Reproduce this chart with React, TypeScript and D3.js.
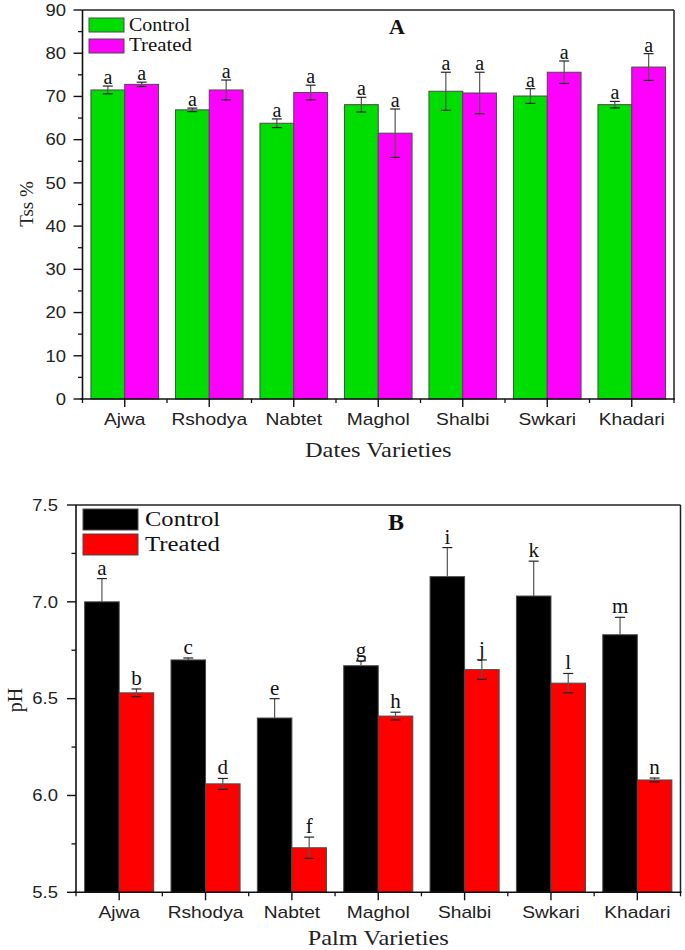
import React from "react";
import * as d3 from "d3";

const categories = ["Ajwa", "Rshodya", "Nabtet", "Maghol", "Shalbi", "Swkari", "Khadari"];
const seriesNames = ["Control", "Treated"];

const tssControl = [71.5, 66.9, 63.8, 68.1, 71.2, 70.1, 68.1];
const tssControlErr = [0.9, 0.4, 1.0, 1.7, 4.4, 1.7, 0.75];
const tssTreated = [72.8, 71.5, 70.9, 61.5, 70.8, 75.6, 76.8];
const tssTreatedErr = [0.5, 2.3, 1.7, 5.6, 4.8, 2.6, 3.1];
const tssControlLetters = ["a", "a", "a", "a", "a", "a", "a"];
const tssTreatedLetters = ["a", "a", "a", "a", "a", "a", "a"];

const phControl = [7.0, 6.7, 6.4, 6.67, 7.13, 7.03, 6.83];
const phControlErr = [0.12, 0.01, 0.1, 0.025, 0.15, 0.18, 0.09];
const phTreated = [6.53, 6.06, 5.73, 6.41, 6.65, 6.58, 6.08];
const phTreatedErr = [0.02, 0.028, 0.055, 0.02, 0.05, 0.05, 0.01];
const phControlLetters = ["a", "c", "e", "g", "i", "k", "m"];
const phTreatedLetters = ["b", "d", "f", "h", "j", "l", "n"];

const SERIF = "'Liberation Serif','Times New Roman',serif";
const SANS = "'Liberation Sans',Arial,sans-serif";

type PanelProps = {
  x0: number; x1: number; y0: number; y1: number;
  domain: [number, number]; major: number; minor: number; fmt: (v: number) => string;
  control: number[]; controlErr: number[]; treated: number[]; treatedErr: number[];
  cLetters: string[]; tLetters: string[];
  colors: [string, string];
  controlUpOnly?: boolean;
  tickLabelRight: number; catBaseline: number; letterSize: number; letterOffset: number;
  legend: { x: number; w: number; h: number; ys: number[]; tx: number; tys: number[]; size: number; lens: number[] };
  panelLetter: { text: string; x: number; y: number; size: number };
  yTitle: { text: string; x: number; y: number; size: number };
  xTitle: { text: string; y: number; size: number; sx: number };
};

function Panel(p: PanelProps) {
  const x = d3.scaleBand<string>().domain(categories).range([p.x0, p.x1]).paddingInner(0.2).paddingOuter(0.1);
  const xs = d3.scaleBand<string>().domain(seriesNames).range([0, x.bandwidth()]).padding(0);
  const y = d3.scaleLinear().domain(p.domain).range([p.y1, p.y0]);
  const step = x.step();
  const majorTicks = d3.range(p.domain[0], p.domain[1] + 1e-9, p.major);
  const minorTicks = d3.range(p.domain[0], p.domain[1] + 1e-9, p.minor).filter(
    (v) => Math.abs(v / p.major - Math.round(v / p.major)) > 1e-6
  );
  const edges = d3.range(0, categories.length + 1).map((i) => p.x0 + i * step);
  const series = [
    { name: "Control", vals: p.control, errs: p.controlErr, letters: p.cLetters, color: p.colors[0], upOnly: !!p.controlUpOnly },
    { name: "Treated", vals: p.treated, errs: p.treatedErr, letters: p.tLetters, color: p.colors[1], upOnly: false },
  ];
  const base = p.domain[0];
  return (
    <g>
      {series.map((s) =>
        categories.map((c, i) => {
          const bx = (x(c) as number) + (xs(s.name) as number);
          return (
            <rect key={s.name + c} x={bx} y={y(s.vals[i])} width={xs.bandwidth()} height={y(base) - y(s.vals[i])}
              fill={s.color} stroke="#4a4a4a" strokeWidth={1} />
          );
        })
      )}
      {series.map((s) =>
        categories.map((c, i) => {
          const cx = (x(c) as number) + (xs(s.name) as number) + xs.bandwidth() / 2;
          const hi = y(s.vals[i] + s.errs[i]);
          const lo = s.upOnly ? y(s.vals[i]) : y(s.vals[i] - s.errs[i]);
          return (
            <g key={"e" + s.name + c}>
              <line x1={cx} x2={cx} y1={hi} y2={lo} stroke="#555" strokeWidth={1.2} />
              <line x1={cx - 5} x2={cx + 5} y1={hi} y2={hi} stroke="#222" strokeWidth={1.2} />
              {!s.upOnly && <line x1={cx - 5} x2={cx + 5} y1={lo} y2={lo} stroke="#222" strokeWidth={1.2} />}
              <text x={cx} y={hi - p.letterOffset} textAnchor="middle" fontFamily={SERIF} fontSize={p.letterSize} fill="#111">
                {s.letters[i]}
              </text>
            </g>
          );
        })
      )}
      <line x1={p.x0} x2={p.x1} y1={p.y0} y2={p.y0} stroke="#222" strokeWidth={1.5} />
      <line x1={p.x1} x2={p.x1} y1={p.y0} y2={p.y1} stroke="#222" strokeWidth={1.5} />
      <line x1={p.x0} x2={p.x0} y1={p.y0} y2={p.y1} stroke="#111" strokeWidth={1.6} />
      <line x1={p.x0 - 2} x2={p.x1 + 1} y1={p.y1} y2={p.y1} stroke="#111" strokeWidth={1.6} />
      {majorTicks.map((v) => (
        <g key={"ym" + v}>
          <line x1={p.x0 - 9} x2={p.x0} y1={y(v)} y2={y(v)} stroke="#111" strokeWidth={1.4} />
          <text transform={`translate(${p.tickLabelRight},${y(v) + 5.8}) scale(1.12,1)`} textAnchor="end" fontFamily={SANS} fontSize={16.5} fill="#222">
            {p.fmt(v)}
          </text>
        </g>
      ))}
      {minorTicks.map((v) => (
        <line key={"yn" + v} x1={p.x0 - 4.5} x2={p.x0} y1={y(v)} y2={y(v)} stroke="#111" strokeWidth={1.3} />
      ))}
      {categories.map((c) => {
        const cx = (x(c) as number) + x.bandwidth() / 2;
        return (
          <g key={"xt" + c}>
            <line x1={cx} x2={cx} y1={p.y1} y2={p.y1 + 8} stroke="#111" strokeWidth={1.4} />
            <text transform={`translate(${cx},${p.catBaseline}) scale(1.2,1)`} textAnchor="middle" fontFamily={SANS} fontSize={16} fill="#222">
              {c}
            </text>
          </g>
        );
      })}
      {edges.map((ex, i) => (
        <line key={"xe" + i} x1={ex} x2={ex} y1={p.y1} y2={p.y1 + 4} stroke="#111" strokeWidth={1.3} />
      ))}
      {series.map((s, i) => (
        <g key={"lg" + s.name}>
          <rect x={p.legend.x} y={p.legend.ys[i]} width={p.legend.w} height={p.legend.h} fill={s.color} stroke="#4a4a4a" strokeWidth={1} />
          <text x={p.legend.tx} y={p.legend.tys[i]} fontFamily={SERIF} fontSize={p.legend.size} fill="#111"
            textLength={p.legend.lens[i]} lengthAdjust="spacingAndGlyphs">
            {s.name}
          </text>
        </g>
      ))}
      <text x={p.panelLetter.x} y={p.panelLetter.y} textAnchor="middle" fontFamily={SERIF} fontWeight="bold" fontSize={p.panelLetter.size} fill="#111">
        {p.panelLetter.text}
      </text>
      <text transform={`translate(${p.yTitle.x},${p.yTitle.y}) rotate(-90)`} textAnchor="middle" fontFamily={SERIF} fontSize={p.yTitle.size} fill="#222">
        {p.yTitle.text}
      </text>
      <text transform={`translate(${(p.x0 + p.x1) / 2},${p.xTitle.y}) scale(${p.xTitle.sx},1)`} textAnchor="middle" fontFamily={SERIF} fontSize={p.xTitle.size} fill="#222">
        {p.xTitle.text}
      </text>
    </g>
  );
}

export default function App() {
  return (
    <svg width={685} height={950} style={{ position: "absolute", left: 0, top: 0, background: "#fff" }}>
      <Panel
        x0={82.5} x1={674} y0={10} y1={399}
        domain={[0, 90]} major={10} minor={5} fmt={(v) => String(Math.round(v))}
        control={tssControl} controlErr={tssControlErr} treated={tssTreated} treatedErr={tssTreatedErr}
        cLetters={tssControlLetters} tLetters={tssTreatedLetters}
        colors={["#00dd00", "#ff00ff"]}
        tickLabelRight={66} catBaseline={425} letterSize={20} letterOffset={2}
        legend={{ x: 89, w: 35, h: 14, ys: [18, 39], tx: 129, tys: [30.5, 51], size: 18.5, lens: [61, 63] }}
        panelLetter={{ text: "A", x: 397, y: 34, size: 22 }}
        yTitle={{ text: "Tss %", x: 33, y: 204, size: 19 }}
        xTitle={{ text: "Dates Varieties", y: 456.5, size: 20, sx: 1.22 }}
      />
      <Panel
        x0={76} x1={680.5} y0={505} y1={892.3}
        domain={[5.5, 7.5]} major={0.5} minor={0.25} fmt={d3.format(".1f")}
        control={phControl} controlErr={phControlErr} treated={phTreated} treatedErr={phTreatedErr}
        cLetters={phControlLetters} tLetters={phTreatedLetters}
        colors={["#000000", "#ff0000"]}
        controlUpOnly={true}
        tickLabelRight={58} catBaseline={918} letterSize={21} letterOffset={4}
        legend={{ x: 83, w: 55, h: 21, ys: [509, 534], tx: 145, tys: [526, 550.5], size: 20.5, lens: [75, 75] }}
        panelLetter={{ text: "B", x: 396, y: 530, size: 24 }}
        yTitle={{ text: "pH", x: 22, y: 700, size: 20 }}
        xTitle={{ text: "Palm Varieties", y: 945, size: 20, sx: 1.22 }}
      />
    </svg>
  );
}
